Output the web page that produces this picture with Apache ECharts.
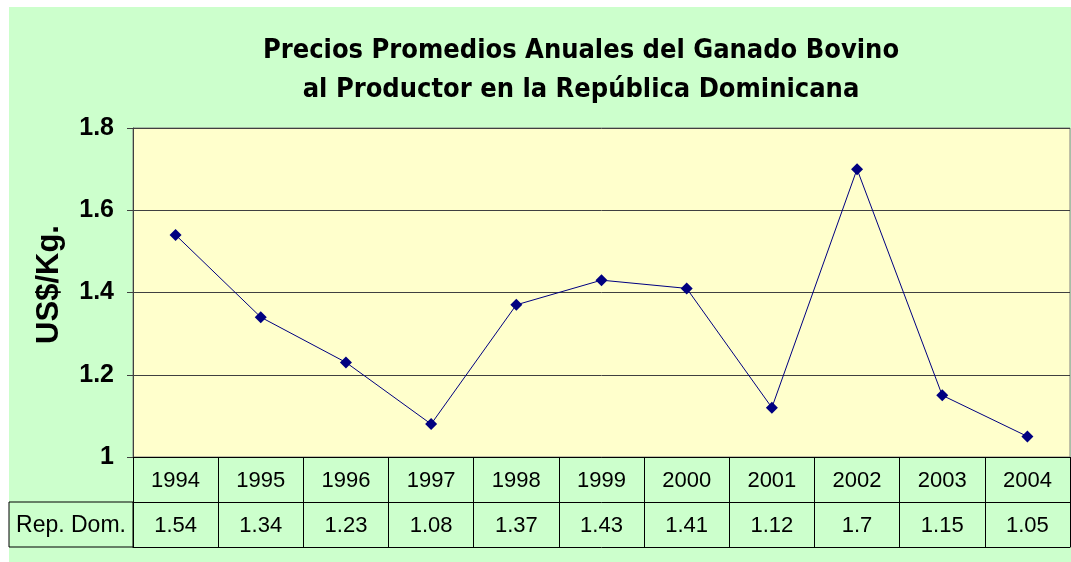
<!DOCTYPE html>
<html>
<head>
<meta charset="utf-8">
<script src="https://cdn.jsdelivr.net/npm/echarts@6/dist/echarts.min.js"></script>
<style>
  html, body { margin: 0; padding: 0; background: #fff; }
  #chart { width: 1071px; height: 562px; }
</style>
</head>
<body>
<div id="chart"></div>
<script>
// datos
var years = ['1994', '1995', '1996', '1997', '1998', '1999', '2000', '2001', '2002', '2003', '2004']
var repDom = [1.54, 1.34, 1.23, 1.08, 1.37, 1.43, 1.41, 1.12, 1.7, 1.15, 1.05]
var seriesName = 'Rep. Dom.'

var chart = echarts.init(document.getElementById('chart'))

chart.setOption({
  backgroundColor: '#ffffff',
  animation: false,
  title: {
    text: 'Precios Promedios Anuales del Ganado Bovino\nal Productor en la República Dominicana',
    left: 576,
    textAlign: 'center',
    top: 26,
    textStyle: {
      fontFamily: 'DejaVu Sans Condensed, Liberation Sans Narrow, Arial',
      fontWeight: 'bold',
      fontSize: 27,
      lineHeight: 39,
      color: '#000'
    }
  },
  graphic: [
    {
      type: 'rect',
      z: -10,
      shape: { x: 9, y: 7, width: 1062, height: 555 },
      style: { fill: '#CCFFCC' }
    },
    {
      type: 'rect',
      z: 10,
      shape: { x: 9, y: 502, width: 124, height: 45 },
      style: { fill: 'none', stroke: '#000', lineWidth: 1 }
    },
    {
      type: 'text',
      z: 10,
      x: 71,
      y: 526,
      style: {
        text: seriesName,
        fontFamily: 'Liberation Sans, Arial',
        fontSize: 23,
        fill: '#000',
        align: 'center',
        verticalAlign: 'middle'
      }
    }
  ],
  grid: {
    left: 133,
    right: 1,
    top: 128,
    bottom: 105,
    show: true,
    backgroundColor: '#FFFFCC',
    borderColor: '#808080',
    borderWidth: 1
  },
  xAxis: [
    {
      type: 'category',
      data: years,
      boundaryGap: true,
      axisLine: { show: true, lineStyle: { color: '#000', width: 1 } },
      axisTick: { show: true, interval: 0, length: 90, lineStyle: { color: '#000' } },
      axisLabel: {
        interval: 0,
        margin: 13,
        fontFamily: 'Liberation Sans, Arial',
        fontSize: 22,
        color: '#000'
      },
      splitLine: { show: false }
    },
    {
      type: 'category',
      data: years,
      position: 'bottom',
      offset: 45,
      boundaryGap: true,
      axisLine: { show: true, lineStyle: { color: '#000', width: 1 } },
      axisTick: { show: false },
      axisLabel: {
        interval: 0,
        margin: 13,
        fontFamily: 'Liberation Sans, Arial',
        fontSize: 22,
        color: '#000',
        formatter: function (v, i) { return String(repDom[i]) }
      }
    },
    {
      type: 'category',
      data: years,
      position: 'bottom',
      offset: 90,
      axisLine: { show: true, lineStyle: { color: '#000', width: 1 } },
      axisTick: { show: false },
      axisLabel: { show: false }
    }
  ],
  yAxis: {
    type: 'value',
    min: 1,
    max: 1.8,
    interval: 0.2,
    name: 'US$/Kg.',
    nameLocation: 'middle',
    nameRotate: 90,
    nameGap: 68,
    nameTextStyle: {
      fontFamily: 'Liberation Sans, Arial',
      fontWeight: 'bold',
      fontSize: 31,
      color: '#000',
      padding: [0, 0, 0, 16]
    },
    axisLine: { show: true, lineStyle: { color: '#404040', width: 1 } },
    axisTick: { show: true, length: 6, lineStyle: { color: '#404040' } },
    axisLabel: {
      margin: 19,
      fontFamily: 'Liberation Sans, Arial',
      fontWeight: 'bold',
      fontSize: 25,
      color: '#000'
    },
    splitLine: { show: true, lineStyle: { color: '#404040', width: 1 } }
  },
  series: [
    {
      name: seriesName,
      type: 'line',
      data: repDom,
      symbol: 'diamond',
      symbolSize: 12,
      lineStyle: { color: '#000080', width: 1 },
      itemStyle: { color: '#000080' }
    }
  ]
})
</script>
</body>
</html>
